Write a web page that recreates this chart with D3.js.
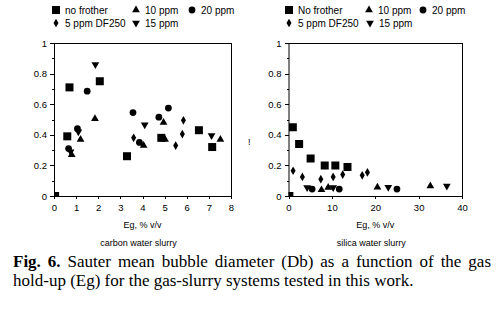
<!DOCTYPE html>
<html lang="en">
<head>
<meta charset="UTF-8">
<title>Sauter mean bubble diameter vs gas hold-up</title>
<style>
    body { margin: 0; background: #fff; }
    svg { display: block; }
    .axis path, .axis line { stroke: #000; shape-rendering: crispEdges; }
    .axis text { font: 9.5px "Liberation Sans", Arial, sans-serif; fill: #000; }
    .legend text { font: 10px "Liberation Sans", Arial, sans-serif; fill: #000; }
    .lbl { font: 9px "Liberation Sans", Arial, sans-serif; fill: #000; }
    .cap { font: 17px "Liberation Serif", "Times New Roman", serif; fill: #000; }
</style>
</head>
<body>
<svg width="496" height="317"></svg>
<script src="https://d3js.org/d3.v7.min.js"></script>
<script>
// series names (legend labels differ slightly between the panels)
var seriesKeys = ["none", "df5", "p10", "p15", "p20"];
var leftNames = ["no frother", "5 ppm DF250", "10 ppm", "15 ppm", "20 ppm"];
var rightNames = ["No frother", "5 ppm DF250", "10 ppm", "15 ppm", "20 ppm"];

// carbon water slurry: [Eg %, Db]
var carbonNone = [[0.05, 0], [0.6, 0.39], [0.7, 0.71], [2.07, 0.75], [3.3, 0.26], [4.85, 0.38], [6.55, 0.43], [7.15, 0.32]];
var carbonDf5  = [[3.6, 0.38], [5.5, 0.33], [5.8, 0.405], [5.85, 0.495]];
var carbon10   = [[0.8, 0.27], [1.2, 0.37], [1.85, 0.505], [4.05, 0.33], [4.95, 0.48], [5.02, 0.37], [7.52, 0.37]];
var carbon15   = [[0.75, 0.29], [1.1, 0.42], [1.87, 0.86], [4.1, 0.465], [7.12, 0.395]];
var carbon20   = [[0.66, 0.31], [1.06, 0.44], [1.5, 0.685], [3.57, 0.545], [3.86, 0.35], [4.74, 0.515], [5.17, 0.575]];

// silica water slurry
var silicaNone = [[0.2, 0], [1.0, 0.45], [2.45, 0.34], [5.1, 0.245], [8.35, 0.2], [10.8, 0.2], [13.6, 0.19]];
var silicaDf5  = [[1.06, 0.165], [3.2, 0.125], [7.45, 0.11], [10.3, 0.125], [12.5, 0.14], [17.0, 0.135], [18.2, 0.155]];
var silica10   = [[7.6, 0.04], [9.15, 0.055], [20.5, 0.057], [32.7, 0.065]];
var silica15   = [[4.3, 0.055], [10.3, 0.055], [23.0, 0.057], [36.5, 0.065]];
var silica20   = [[5.45, 0.045], [11.7, 0.045], [25.0, 0.045]];

var carbonXTicks = [0, 1, 2, 3, 4, 5, 6, 7, 8];
var silicaXTicks = [0, 10, 20, 30, 40];
var yTicks = [0, 0.2, 0.4, 0.6, 0.8, 1];
var yMinor = [0.1, 0.3, 0.5, 0.7, 0.9];

var svg = d3.select("svg");

var symbolFor = {
    none: d3.symbol().type(d3.symbolSquare).size(64),
    df5:  d3.symbol().type(d3.symbolDiamond).size(22),
    p10:  d3.symbol().type(d3.symbolTriangle).size(26),
    p15:  d3.symbol().type(d3.symbolTriangle).size(26),
    p20:  d3.symbol().type(d3.symbolCircle).size(36)
};
function marker(sel, key) {
    sel.attr("d", symbolFor[key]()).attr("fill", "#000");
    if (key === "p15") sel.attr("transform", function() { return d3.select(this).attr("transform") + " rotate(180)"; });
}

function panel(opt) {
    var x = d3.scaleLinear().domain(opt.xDomain).range([opt.left, opt.right]);
    var y = d3.scaleLinear().domain([0, 1]).range([196, 43]);

    var clipId = "clip" + opt.id;
    svg.append("clipPath").attr("id", clipId).append("rect")
        .attr("x", opt.left).attr("y", 43).attr("width", opt.right - opt.left).attr("height", 153);

    svg.append("rect").attr("x", opt.left + 0.5).attr("y", 43.5)
        .attr("width", opt.right - opt.left).attr("height", 153)
        .attr("fill", "none").attr("stroke", "#000");

    svg.append("g").attr("class", "axis")
        .attr("transform", "translate(0,196)")
        .call(d3.axisBottom(x).tickValues(opt.xTicks).tickSize(3).tickPadding(5).tickFormat(d3.format("d")))
        .call(function(g) { g.select(".domain").remove(); });

    svg.append("g").attr("class", "axis")
        .attr("transform", "translate(" + opt.left + ",0)")
        .call(d3.axisLeft(y).tickValues(yTicks).tickSize(4).tickPadding(3).tickFormat(function(d) { return d === 0 || d === 1 ? d : d3.format(".1f")(d); }))
        .call(function(g) { g.select(".domain").remove(); });

    svg.append("g").attr("class", "axis")
        .attr("transform", "translate(" + opt.left + ",0)")
        .call(d3.axisLeft(y).tickValues(yMinor).tickSize(2).tickFormat(""))
        .call(function(g) { g.select(".domain").remove(); });

    var pts = svg.append("g").attr("clip-path", "url(#" + clipId + ")");
    seriesKeys.forEach(function(key, i) {
        pts.selectAll(".s" + key)
            .data(opt.data[i])
            .enter().append("path")
            .attr("class", "s" + key)
            .attr("transform", function(d) { return "translate(" + x(d[0]) + "," + y(d[1]) + ")"; })
            .each(function() { marker(d3.select(this), key); });
    });

    var mid = (opt.left + opt.right) / 2;
    svg.append("text").attr("class", "lbl").attr("x", mid).attr("y", 228)
        .attr("text-anchor", "middle").text("Eg, % v/v");
    svg.append("text").attr("class", "lbl").attr("x", mid - 4).attr("y", 246)
        .attr("text-anchor", "middle").text(opt.title);

    // legend, 3 columns x 2 rows
    var lg = svg.append("g").attr("class", "legend");
    opt.legendPos.forEach(function(p, i) {
        var key = seriesKeys[i];
        lg.append("path").attr("transform", "translate(" + p[0] + "," + p[1] + ")")
            .each(function() { marker(d3.select(this), key); });
        lg.append("text").attr("x", p[0] + 9).attr("y", p[1] + 3.5).text(opt.names[i]);
    });
}

panel({
    id: "L", left: 54, right: 231, xDomain: [0, 8], xTicks: carbonXTicks,
    data: [carbonNone, carbonDf5, carbon10, carbon15, carbon20],
    names: leftNames, title: "carbon water slurry",
    legendPos: [[56, 10], [56, 23], [136, 10], [136, 23], [192, 10]]
});
panel({
    id: "R", left: 288.5, right: 462, xDomain: [0, 40], xTicks: silicaXTicks,
    data: [silicaNone, silicaDf5, silica10, silica15, silica20],
    names: rightNames, title: "silica water slurry",
    legendPos: [[289, 10], [289, 23], [369, 10], [370, 23], [423, 10]]
});

// stray glyph between the panels
svg.append("text").attr("class", "lbl").attr("x", 248).attr("y", 145).text("!");

// caption, first line justified to the full width
var cap1 = svg.append("text").attr("class", "cap").attr("x", 13).attr("y", 267);
cap1.append("tspan").attr("font-weight", "bold").text("Fig. 6.");
cap1.append("tspan").text(" Sauter mean bubble diameter (Db) as a function of the gas");
var w = cap1.node().getComputedTextLength();
var gaps = 12;
cap1.attr("word-spacing", Math.max(0, (478 - w) / gaps));
svg.append("text").attr("class", "cap").attr("x", 13).attr("y", 286)
    .text("hold-up (Eg) for the gas-slurry systems tested in this work.");
</script>
</body>
</html>
